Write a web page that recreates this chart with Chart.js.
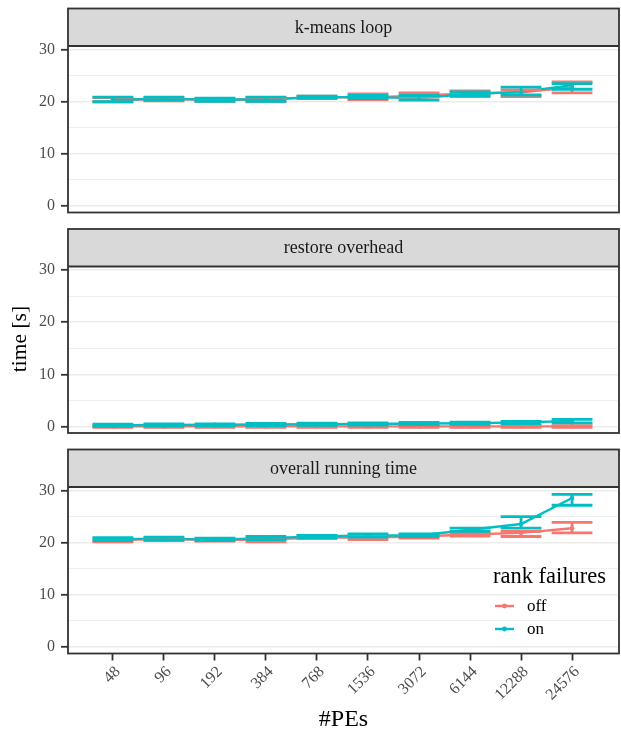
<!DOCTYPE html>
<html>
<head>
<meta charset="utf-8">
<script src="https://cdn.jsdelivr.net/npm/chart.js@4.4.1/dist/chart.umd.min.js"></script>
<style>
html,body{margin:0;padding:0;background:#fff;overflow:hidden;width:621px;height:734px;position:relative;}
canvas{position:absolute;left:0;top:-30px;}
</style>
</head>
<body>
<canvas id="c1" width="623" height="764"></canvas>
<canvas id="c2" width="623" height="764"></canvas>
<canvas id="c3" width="623" height="764"></canvas>
<script>
const categories = ['48','96','192','384','768','1536','3072','6144','12288','24576'];
const seriesNames = ['off','on'];
const seriesColors = ['#F8766D','#00BFC4'];
const panelTitles = ['k-means loop','restore overhead','overall running time'];
const yTickLabels = [0,10,20,30];
const yMinorTicks = [5,15,25,35];

// k-means loop
const kmeansOffMean = [20.3,20.5,20.4,20.4,20.9,20.8,21.2,21.6,21.8,22.8];
const kmeansOffLow  = [20.0,20.2,20.1,20.0,20.6,20.4,20.9,21.0,21.0,21.7];
const kmeansOffHigh = [20.8,20.8,20.6,20.8,21.1,21.5,21.7,22.1,22.3,23.8];
const kmeansOnMean  = [20.4,20.6,20.4,20.5,20.9,20.9,20.7,21.5,21.9,23.2];
const kmeansOnLow   = [20.0,20.3,20.1,20.1,20.7,20.6,20.3,21.2,21.3,22.4];
const kmeansOnHigh  = [20.9,20.9,20.7,20.9,21.1,21.2,21.2,21.9,22.8,23.5];

// restore overhead
const restoreOffMean = [0.02,0.02,0.02,0.02,0.02,0.02,0.02,0.02,0.02,0.02];
const restoreOffLow  = [-0.15,-0.15,-0.15,-0.15,-0.15,-0.15,-0.15,-0.15,-0.15,-0.15];
const restoreOffHigh = [0.15,0.15,0.15,0.15,0.15,0.15,0.15,0.15,0.15,0.15];
const restoreOnMean  = [0.25,0.28,0.32,0.38,0.42,0.48,0.58,0.62,0.78,1.05];
const restoreOnLow   = [0.05,0.08,0.12,0.18,0.22,0.28,0.35,0.40,0.55,0.70];
const restoreOnHigh  = [0.45,0.48,0.52,0.58,0.62,0.68,0.80,0.85,1.00,1.35];

// overall running time
const overallOffMean = [20.5,20.7,20.5,20.6,21.0,21.0,21.2,21.6,21.9,22.8];
const overallOffLow  = [20.2,20.4,20.3,20.2,20.8,20.6,20.9,21.3,21.2,21.9];
const overallOffHigh = [20.8,20.9,20.8,20.9,21.3,21.4,21.6,21.9,22.2,23.9];
const overallOnMean  = [20.7,20.8,20.6,20.9,21.2,21.4,21.4,22.5,23.6,28.6];
const overallOnLow   = [20.4,20.5,20.4,20.6,21.0,21.1,21.2,22.2,22.8,27.2];
const overallOnHigh  = [21.0,21.1,20.9,21.2,21.4,21.7,21.7,22.8,25.0,29.3];

const FONT = "'Liberation Serif', 'DejaVu Serif', serif";
const OFF = 30;           // canvases are shifted up by this many px
const H = 734 + OFF;
const panelTops = [8.5, 229, 449.5];
const panelH = 204;
const stripH = 37.5;

function ds(idx, mean, low, high) {
  return {
    label: seriesNames[idx],
    data: mean.map((v, i) => ({x: i, y: v})),
    errLow: low, errHigh: high,
    borderColor: seriesColors[idx],
    backgroundColor: seriesColors[idx],
    pointBackgroundColor: seriesColors[idx],
    pointBorderWidth: 0,
    pointRadius: 2.2,
    borderWidth: 2.4,
    tension: 0,
    order: idx === 0 ? 1 : 0
  };
}

const errorBars = {
  id: 'errorBars',
  afterDatasetsDraw(chart) {
    const {ctx, chartArea, scales} = chart;
    ctx.save();
    ctx.beginPath();
    ctx.rect(chartArea.left, chartArea.top, chartArea.right - chartArea.left, chartArea.bottom - chartArea.top);
    ctx.clip();
    chart.data.datasets.forEach(d => {
      ctx.strokeStyle = d.borderColor;
      ctx.lineWidth = 2.8;
      d.errLow.forEach((lo, i) => {
        const hi = d.errHigh[i];
        const xc = scales.x.getPixelForValue(i);
        const xl = scales.x.getPixelForValue(i - 0.4);
        const xr = scales.x.getPixelForValue(i + 0.4);
        const yl = scales.y.getPixelForValue(lo);
        const yh = scales.y.getPixelForValue(hi);
        ctx.beginPath();
        ctx.moveTo(xc, yl); ctx.lineTo(xc, yh);
        ctx.moveTo(xl, yl); ctx.lineTo(xr, yl);
        ctx.moveTo(xl, yh); ctx.lineTo(xr, yh);
        ctx.stroke();
      });
    });
    ctx.restore();
  }
};

const frame = {
  id: 'frame',
  afterDraw(chart, args, opts) {
    const {ctx, chartArea} = chart;
    const l = chartArea.left, t = chartArea.top, r = chartArea.right, b = chartArea.bottom;
    ctx.save();
    // strip
    ctx.fillStyle = '#D9D9D9';
    ctx.fillRect(l, t, r - l, stripH);
    ctx.strokeStyle = '#333333';
    ctx.lineWidth = 2;
    ctx.beginPath();
    ctx.moveTo(l, t + stripH); ctx.lineTo(r, t + stripH);
    ctx.stroke();
    ctx.fillStyle = '#1A1A1A';
    ctx.font = "18px " + FONT;
    ctx.textAlign = 'center';
    ctx.textBaseline = 'middle';
    ctx.fillText(opts.title, (l + r) / 2, t + stripH / 2 + 1);
    // border
    ctx.lineWidth = 1.8;
    ctx.strokeStyle = '#333333';
    ctx.strokeRect(l, t, r - l, b - t);
    // legend
    if (opts.legend) {
      ctx.fillStyle = '#000';
      ctx.textAlign = 'left';
      ctx.textBaseline = 'alphabetic';
      ctx.font = "22.5px " + FONT;
      ctx.fillText('rank failures', 493, 583 + OFF);
      chart.data.datasets.forEach((d, k) => {
        const yy = 606 + k * 23 + OFF;
        ctx.strokeStyle = d.borderColor;
        ctx.lineWidth = 2.4;
        ctx.beginPath();
        ctx.moveTo(495, yy); ctx.lineTo(514, yy);
        ctx.stroke();
        ctx.fillStyle = d.borderColor;
        ctx.beginPath();
        ctx.arc(504.5, yy, 2.4, 0, Math.PI * 2);
        ctx.fill();
        ctx.fillStyle = '#000';
        ctx.font = "17px " + FONT;
        ctx.textBaseline = 'middle';
        ctx.fillText(d.label, 527, yy + 1);
      });
    }
    ctx.restore();
  }
};

function makePanel(id, pi, sets) {
  const top = panelTops[pi] + OFF;
  const bottom = top + panelH;
  const isLast = pi === 2;
  new Chart(document.getElementById(id), {
    type: 'line',
    data: { datasets: sets },
    plugins: [errorBars, frame],
    options: {
      responsive: false,
      animation: false,
      events: [],
      layout: { padding: { top: top, bottom: isLast ? 0 : H - bottom, left: 0, right: 0 } },
      plugins: {
        legend: { display: false },
        tooltip: { enabled: false },
        frame: { title: panelTitles[pi], legend: isLast }
      },
      scales: {
        x: {
          type: 'linear',
          display: isLast,
          min: -0.88, max: 9.92,
          afterBuildTicks: s => { s.ticks = categories.map((c, i) => ({value: i})); },
          afterFit: s => { s.height = isLast ? H - bottom : 0; },
          ticks: {
            autoSkip: false,
            minRotation: 45, maxRotation: 45,
            labelOffset: 5,
            padding: 2,
            color: '#4D4D4D',
            font: { family: FONT, size: 16 },
            callback: v => categories[v]
          },
          grid: { drawOnChartArea: false, tickColor: '#333333', tickLength: 7, tickWidth: 1.8 },
          border: { display: false },
          title: { display: true, text: '#PEs', color: '#000', font: { family: FONT, size: 24 }, padding: { top: 0, bottom: 0 } }
        },
        y: {
          min: -1.25, max: 37.9,
          afterBuildTicks: s => { s.ticks = yTickLabels.concat(yMinorTicks).sort((a,b)=>a-b).map(v => ({value: v})); },
          afterFit: s => { s.width = 68; },
          ticks: {
            color: '#4D4D4D',
            font: { family: FONT, size: 16 },
            padding: 6,
            callback: v => yTickLabels.includes(v) ? String(v) : ''
          },
          grid: {
            color: '#EBEBEB',
            lineWidth: c => (c.tick && yTickLabels.includes(c.tick.value)) ? 1.6 : 0.8,
            tickColor: c => (c.tick && yTickLabels.includes(c.tick.value)) ? '#333333' : 'rgba(0,0,0,0)',
            tickLength: 7,
            tickWidth: 1.8
          },
          border: { display: false },
          title: { display: pi === 1, text: 'time [s]\u00A0\u00A0\u00A0', color: '#000', font: { family: FONT, size: 21.5 }, padding: { top: 7, bottom: 0 } }
        }
      }
    }
  });
}

makePanel('c1', 0, [ds(0, kmeansOffMean, kmeansOffLow, kmeansOffHigh), ds(1, kmeansOnMean, kmeansOnLow, kmeansOnHigh)]);
makePanel('c2', 1, [ds(0, restoreOffMean, restoreOffLow, restoreOffHigh), ds(1, restoreOnMean, restoreOnLow, restoreOnHigh)]);
makePanel('c3', 2, [ds(0, overallOffMean, overallOffLow, overallOffHigh), ds(1, overallOnMean, overallOnLow, overallOnHigh)]);
</script>
</body>
</html>
